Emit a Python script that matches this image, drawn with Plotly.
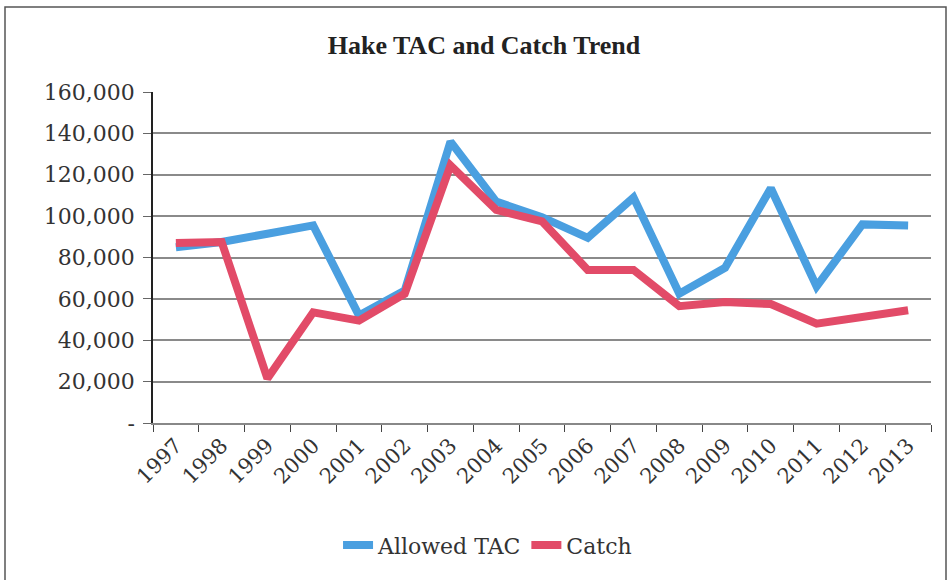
import plotly.graph_objects as go

years = [str(y) for y in range(1997, 2014)]
allowed_tac = [85000, 87500, 91500, 95500, 52000, 64000, 136000, 107000, 99500,
               89500, 109000, 62500, 75000, 113500, 66000, 96000, 95500]
catch = [87000, 87500, 21500, 53500, 49500, 62500, 124500, 103000, 97500,
         74000, 74000, 56500, 58500, 57500, 48000, 51500, 54500]
y_ticks = [0, 20000, 40000, 60000, 80000, 100000, 120000, 140000, 160000]
y_tick_text = ["-", "20,000", "40,000", "60,000", "80,000", "100,000",
               "120,000", "140,000", "160,000"]

BLUE = "#4a9fe0"
RED = "#e24b68"
FONT = "DejaVu Serif"
TITLE_FONT = "Liberation Serif"

fig = go.Figure()
fig.add_trace(go.Scatter(x=years, y=allowed_tac, name="Allowed TAC", mode="lines",
                         line=dict(color=BLUE, width=8)))
fig.add_trace(go.Scatter(x=years, y=catch, name="Catch", mode="lines",
                         line=dict(color=RED, width=8)))

fig.update_layout(
    width=949, height=580,
    margin=dict(l=153, r=18, t=92, b=157, autoexpand=False),
    paper_bgcolor="white", plot_bgcolor="white",
    font=dict(family=FONT, color="#333333", size=21),
    title=dict(text="<b>Hake TAC and Catch Trend</b>", x=0.51, xanchor="center",
               y=0.922, yanchor="middle",
               font=dict(family=TITLE_FONT, size=26, color="#222222")),
    showlegend=True,
    legend=dict(orientation="h", x=0.43, xanchor="center",
                yref="container", y=0.06, yanchor="middle",
                bgcolor="rgba(0,0,0,0)",
                font=dict(family=FONT, size=22, color="#333333")),
    xaxis=dict(type="category", tickson="boundaries", ticks="outside", ticklen=7,
               tickcolor="#444444", tickwidth=1.2, tickangle=-45,
               showline=True, linecolor="#888888", linewidth=2,
               showgrid=False, tickfont=dict(family=FONT, size=21, color="#333333"),
               range=[-0.5, 16.5]),
    yaxis=dict(range=[0, 160000], tickvals=y_ticks, ticktext=y_tick_text,
               ticks="outside", ticklen=8, tickcolor="#666666",
               showline=True, linecolor="#222222", linewidth=1.5,
               showgrid=True, gridcolor="#8a8a8a", gridwidth=1.5,
               zeroline=False, ticklabelstandoff=4,
               tickfont=dict(family=FONT, size=22, color="#333333")),
    shapes=[dict(type="rect", xref="paper", yref="paper",
                 x0=(5 - 153) / 778, x1=1 + 15 / 778,
                 y0=-200 / 331, y1=1 + 85 / 331,
                 line=dict(color="#555555", width=1.5), layer="below")],
)

fig.write_html("out.html")
